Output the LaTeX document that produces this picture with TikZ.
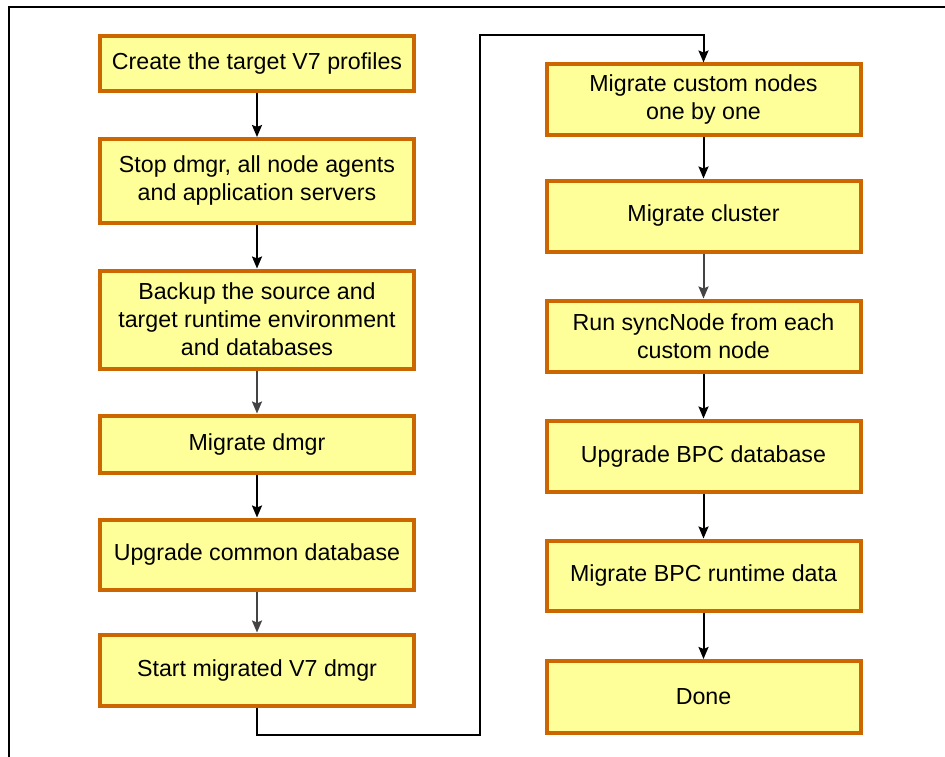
\documentclass[tikz,border=0pt]{standalone}
\usepackage{fontspec}
\setmainfont{Liberation Sans}
\usetikzlibrary{arrows.meta,shadows}
\definecolor{boxfill}{HTML}{FFFF99}
\definecolor{boxline}{HTML}{CC6600}
\definecolor{boxshadow}{HTML}{7A4010}
\definecolor{darkarrow}{HTML}{444444}
\begin{document}
\begin{tikzpicture}[x=1pt,y=-1pt,
  box/.style={rectangle, draw=boxline, fill=boxfill, line width=4pt,
    minimum width=314pt, align=center, inner sep=2pt,
    font=\fontsize{23.2}{28}\selectfont,
    drop shadow={shadow xshift=2pt, shadow yshift=-2pt, fill=boxshadow, opacity=0.9}},
  arr/.style={line width=2pt, -{Stealth[length=12pt,width=10pt,inset=2pt]}},
  grayarr/.style={arr, draw=darkarrow, color=darkarrow},
  frameline/.style={line width=1.8pt},
  route/.style={line width=2pt, -{Stealth[length=12pt,width=10pt,inset=2pt]}}]
\useasboundingbox (0,0) rectangle (945,757);
\draw[frameline] (9,757) -- (9,7) -- (945,7);

% left column
\node[box, minimum height=55pt] (a1) at (257,64) {Create the target V7 profiles};
\node[box, minimum height=84pt] (a2) at (257,181) {Stop dmgr, all node agents\\and application servers};
\node[box, minimum height=98pt] (a3) at (257,319.5) {Backup the source and\\target runtime environment\\and databases};
\node[box, minimum height=57pt] (a4) at (257,444) {Migrate dmgr};
\node[box, minimum height=70pt] (a5) at (257,554.5) {Upgrade common database};
\node[box, minimum height=71pt] (a6) at (257,670) {Start migrated V7 dmgr};

% right column
\node[box, minimum height=71pt] (b1) at (703.5,100) {Migrate custom nodes\\one by one};
\node[box, minimum height=71pt] (b2) at (703.5,216) {Migrate cluster};
\node[box, minimum height=71pt] (b3) at (703.5,336) {Run syncNode from each\\custom node};
\node[box, minimum height=71pt] (b4) at (703.5,456) {Upgrade BPC database};
\node[box, minimum height=70pt] (b5) at (703.5,575.5) {Migrate BPC runtime data};
\node[box, minimum height=72pt] (b6) at (703.5,697) {Done};

\draw[arr] (a1) -- (a2);
\draw[arr] (a2) -- (a3);
\draw[grayarr] (a3) -- (a4);
\draw[arr] (a4) -- (a5);
\draw[grayarr] (a5) -- (a6);

\coordinate (c1) at (480,735);
\coordinate (c2) at (480,35);
\draw[route] (a6.south) |- (c1) -- (c2) -| (b1.north);

\draw[arr] (b1) -- (b2);
\draw[grayarr] (b2) -- (b3);
\draw[arr] (b3) -- (b4);
\draw[arr] (b4) -- (b5);
\draw[arr] (b5) -- (b6);
\end{tikzpicture}
\end{document}
